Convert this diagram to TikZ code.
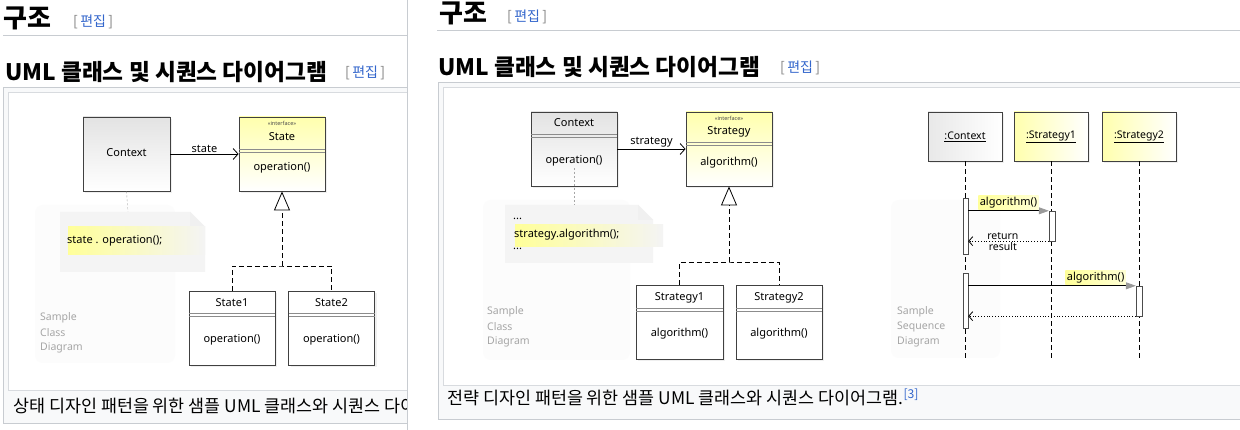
\documentclass[tikz,border=0pt]{standalone}
\usepackage{fontspec}
\setmainfont{Noto Sans}
\newfontfamily\krfont{Noto Sans CJK KR}
\definecolor{wikiblue}{HTML}{3366CC}
\definecolor{framegray}{HTML}{C8CCD1}
\definecolor{capbg}{HTML}{F8F9FA}
\definecolor{hlyellow}{HTML}{FFFF99}
\definecolor{notegray}{HTML}{F4F4F4}
\usetikzlibrary{arrows.meta, shadows, positioning, calc}

\begin{document}
\begin{tikzpicture}[x=1pt, y=-1pt, >=Latex,
    classbox/.style={draw=black!75, line width=0.8pt, top color=gray!22, bottom color=white,
      drop shadow={opacity=0.12, shadow xshift=2pt, shadow yshift=-2pt},
      minimum width=86pt, minimum height=74pt, inner sep=0pt},
    ifacebox/.style={classbox, top color=hlyellow!80, bottom color=white},
    plainbox/.style={classbox, fill=white, top color=white, bottom color=white},
    objbox/.style={draw=black!75, line width=0.8pt, left color=gray!18, right color=white,
      drop shadow={opacity=0.12, shadow xshift=2pt, shadow yshift=-2pt},
      minimum width=74pt, minimum height=49pt, inner sep=0pt, font=\fontsize{10.5}{12}\selectfont},
    yobjbox/.style={objbox, left color=hlyellow!80, right color=white},
    act/.style={draw=black!70, fill=white, minimum width=5pt, inner sep=0pt},
    uml/.style={font=\fontsize{11}{13}\selectfont, inner sep=1pt},
    stereo/.style={font=\fontsize{5.5}{6}\selectfont, text=black!70, inner sep=0pt},
    sample/.style={font=\fontsize{10.5}{12}\selectfont, text=gray!70, anchor=west, inner sep=0pt},
    sepline/.style={draw=black!45, line width=0.5pt},
    assoc/.style={line width=0.8pt, -{Straight Barb[length=5pt, width=11pt]}},
    realize/.style={line width=0.8pt, dash pattern=on 5pt off 3pt,
      -{Triangle[open, length=19pt, width=16pt, line width=0.8pt]}},
    dashline/.style={line width=0.8pt, dash pattern=on 5pt off 3pt},
    notelink/.style={gray!70, dash pattern=on 2pt off 2pt},
    lifeline/.style={line width=0.8pt, dash pattern=on 5pt off 3pt},
    call/.style={line width=0.8pt, -{Triangle[length=10pt, width=7pt, color=gray!80, fill=gray!80]}},
    reply/.style={line width=0.8pt, dotted, -{Straight Barb[length=4pt, width=9pt]}},
    msglbl/.style={left color=hlyellow, right color=hlyellow!40, inner sep=1.5pt,
      font=\fontsize{11}{13}\selectfont},
    kr/.style={font=\krfont\fontsize{17.4}{20}\selectfont, anchor=west, inner sep=0pt},
    krhead/.style={kr, font=\krfont\bfseries\fontsize{22.7}{26}\selectfont},
    krtitle/.style={kr, font=\krfont\bfseries\fontsize{26}{30}\selectfont},
    edit/.style={font=\krfont\fontsize{14}{16}\selectfont, anchor=west, inner sep=0pt}
  ]
  \useasboundingbox (0,0) rectangle (1240,430);
  \fill[white] (0,0) rectangle (1240,430);

  % ---------- left page ----------
  \begin{scope}
    \clip (0,0) rectangle (407,430);
    % Headings
    \node[krtitle] (headL) at (3,18) {구조};
    \node[edit] (editL) at (73,22) {\textcolor{gray}{[}\,\textcolor{wikiblue}{편집}\,\textcolor{gray}{]}};
    \draw[framegray] (3,35) -- (407,35);
    \node[krhead] (subL) at (5,72) {UML 클래스 및 시퀀스 다이어그램};
    \node[edit] (edit2L) at (345,73) {\textcolor{gray}{[}\,\textcolor{wikiblue}{편집}\,\textcolor{gray}{]}};
    % Figure frame
    \draw[framegray, fill=capbg] (3,87) rectangle (430,423);
    \draw[framegray!70, fill=white] (8,92) rectangle (430,390);
    \node[kr] (capL) at (13,406) {상태 디자인 패턴을 위한 샘플 UML 클래스와 시퀀스 다이어그램.};
    % Background of the sample label
    \fill[gray!2, rounded corners=8pt] (35,205) rectangle (175,363);
    % Classes
    \node[classbox, minimum width=87pt] (ctxL) at (126.5,154) {};
    \node[uml] at (126.5,153) {Context};
    \node[ifacebox] (stateL) at (282,154) {};
    \node[stereo] at (282,123) {«interface»};
    \node[uml] at (282,137) {State};
    \draw[sepline] (239,149) -- (325,149);
    \draw[sepline] (239,152) -- (325,152);
    \node[uml] at (282,168) {operation()};
    % Association
    \draw[assoc] (ctxL.east) -- (stateL.west) node[midway, above, uml] {state};
    % Note
    \coordinate (noteL) at (128,212);
    \draw[notelink] (ctxL.south) -- (noteL);
    \fill[notegray] (60,212) -- (190,212) -- (205,227) -- (205,272) -- (60,272) -- cycle;
    \fill[gray!12] (190,212) -- (190,227) -- (205,227) -- cycle;
    \fill[left color=hlyellow, right color=notegray] (68,227) rectangle (205,255);
    \node[uml, anchor=west, inner sep=0pt] at (67,241) {state . operation();};
    % Implementations
    \node[plainbox] (st1L) at (232,328.5) {};
    \node[uml] at (232,303) {State1};
    \draw[sepline] (189,313) -- (275,313);
    \draw[sepline] (189,316) -- (275,316);
    \node[uml] at (232,340) {operation()};
    \node[plainbox] (st2L) at (331.5,328.5) {};
    \node[uml] at (331.5,303) {State2};
    \draw[sepline] (288.5,313) -- (374.5,313);
    \draw[sepline] (288.5,316) -- (374.5,316);
    \node[uml] at (331.5,340) {operation()};
    \coordinate (jL) at (282,266);
    \draw[dashline] (st1L.north) |- (jL) -| (st2L.north);
    \draw[realize] (jL) -- (stateL.south);
    % Label
    \node[sample] at (40,318) {Sample};
    \node[sample] at (40,333) {Class};
    \node[sample] at (40,348) {Diagram};
  \end{scope}
  \draw[framegray] (407,0) -- (407,430);

  % ---------- right page ----------
  % Headings
  \node[krtitle] (headR) at (439,13) {구조};
  \node[edit] (editR) at (507,17) {\textcolor{gray}{[}\,\textcolor{wikiblue}{편집}\,\textcolor{gray}{]}};
  \draw[framegray] (437,30) -- (1240,30);
  \node[krhead] (subR) at (438,67) {UML 클래스 및 시퀀스 다이어그램};
  \node[edit] (edit2R) at (780,68) {\textcolor{gray}{[}\,\textcolor{wikiblue}{편집}\,\textcolor{gray}{]}};
  % Figure frame
  \draw[framegray, fill=capbg] (438,82) rectangle (1260,419);
  \draw[framegray!70, fill=white] (443,87) rectangle (1260,385);
  \node[kr] (capR) at (447,397) {전략 디자인 패턴을 위한 샘플 UML 클래스와 시퀀스 다이어그램.\textsuperscript{\textcolor{wikiblue}{[3]}}};
  % Backgrounds of the sample labels
  \fill[gray!2, rounded corners=8pt] (483,200) rectangle (630,360);
  \fill[gray!2, rounded corners=8pt] (891,200) rectangle (1000,358);

  % Class diagram
  \node[classbox] (ctxR) at (574,149) {};
  \node[uml] at (574,123) {Context};
  \draw[sepline] (531,134) -- (617,134);
  \draw[sepline] (531,137) -- (617,137);
  \node[uml] at (574,161) {operation()};
  \node[ifacebox] (stratR) at (729,149) {};
  \node[stereo] at (729,118) {«interface»};
  \node[uml] at (729,132) {Strategy};
  \draw[sepline] (686,142) -- (772,142);
  \draw[sepline] (686,145) -- (772,145);
  \node[uml] at (729,163) {algorithm()};
  % Association
  \draw[assoc] (ctxR.east) -- (stratR.west) node[midway, above, uml] {strategy};
  % Note
  \coordinate (opR) at (574,168);
  \coordinate (noteR) at (574,205);
  \fill[notegray] (505,205) -- (638,205) -- (653,220) -- (653,263) -- (505,263) -- cycle;
  \fill[gray!12] (638,205) -- (638,220) -- (653,220) -- cycle;
  \draw[notelink] (opR) -- (noteR);
  \fill[left color=hlyellow, right color=notegray] (515,225) rectangle (663,247);
  \node[uml, anchor=west, inner sep=0pt] at (513,219) {...};
  \node[uml, anchor=west, inner sep=0pt] at (514,235) {strategy.algorithm();};
  \node[uml, anchor=west, inner sep=0pt] at (513,249) {...};
  % Implementations
  \node[plainbox, minimum width=87pt] (s1R) at (679.5,322) {};
  \node[uml] at (679.5,298) {Strategy1};
  \draw[sepline] (636,308) -- (723,308);
  \draw[sepline] (636,311) -- (723,311);
  \node[uml] at (679.5,334) {algorithm()};
  \node[plainbox] (s2R) at (779,322) {};
  \node[uml] at (779,298) {Strategy2};
  \draw[sepline] (736,308) -- (822,308);
  \draw[sepline] (736,311) -- (822,311);
  \node[uml] at (779,334) {algorithm()};
  \coordinate (jR) at (729,262);
  \draw[dashline] (s1R.north) |- (jR) -| (s2R.north);
  \draw[realize] (jR) -- (stratR.south);
  \node[sample] at (487,312) {Sample};
  \node[sample] at (487,327) {Class};
  \node[sample] at (487,342) {Diagram};

  % Sequence diagram
  \node[objbox] (sctx) at (965,136.5) {\underline{:Context}};
  \node[yobjbox] (ss1) at (1051,136.5) {\underline{:Strategy1}};
  \node[yobjbox] (ss2) at (1139,136.5) {\underline{:Strategy2}};
  \draw[lifeline] (sctx.south) -- ++(0,197);
  \draw[lifeline] (ss1.south) -- ++(0,197);
  \draw[lifeline] (ss2.south) -- ++(0,197);
  % Activations
  \node[act, minimum height=56pt] (act1) at (965.5,226) {};
  \node[act, minimum height=30pt, minimum width=6pt] (act2) at (1052,226) {};
  \node[act, minimum height=55pt] (act3) at (965.5,300.5) {};
  \node[act, minimum height=30pt, minimum width=6pt] (act4) at (1139,301) {};
  % Messages
  \draw[call] (act1.east |- act2.north) -- (act2.north west)
    node[msglbl, pos=0.5, above=1pt] {algorithm()};
  \draw[reply] (act2.south west) -- (act1.east |- act2.south)
    node[pos=0.57, above, inner sep=1pt, font=\fontsize{10.5}{12}\selectfont] {return}
    node[pos=0.57, below, inner sep=1pt, font=\fontsize{10.5}{12}\selectfont] {result};
  \draw[call] (act3.east |- act4.north) -- (act4.north west)
    node[msglbl, pos=0.76, above=1pt] {algorithm()};
  \draw[reply] (act4.south west) -- (act3.east |- act4.south);
  \node[sample] at (897,312) {Sample};
  \node[sample] at (897,327) {Sequence};
  \node[sample] at (897,342) {Diagram};
\end{tikzpicture}
\end{document}
